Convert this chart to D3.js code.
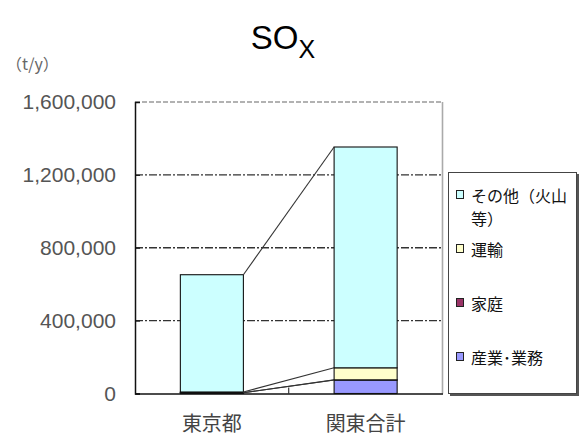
<!DOCTYPE html>
<html>
<head>
<meta charset="utf-8">
<script src="https://cdn.jsdelivr.net/npm/d3@7"></script>
<style>
  html, body { margin: 0; padding: 0; background: #fff; }
  svg { display: block; }
</style>
</head>
<body>
<svg id="chart" width="580" height="442"></svg>
<script>
// ---- data ----
const categories = ["東京都", "関東合計"];
const seriesNames = ["産業･業務", "家庭", "運輸", "その他（火山等）"];
const industry = [4000, 74000];
const household = [300, 1000];
const transport = [4000, 66000];
const other = [643700, 1212000];
const yTicks = [0, 400000, 800000, 1200000, 1600000];
const legendOrder = ["その他（火山等）", "運輸", "家庭", "産業･業務"];
const colors = ["#9999FF", "#993366", "#FFFFCC", "#CCFFFF"];

// ---- layout ----
const svg = d3.select("#chart");
const plotL = 135, plotR = 442.5, plotT = 102, plotB = 393.5;

const rows = categories.map((c, i) => ({
  cat: c,
  "産業･業務": industry[i],
  "家庭": household[i],
  "運輸": transport[i],
  "その他（火山等）": other[i]
}));
const stack = d3.stack().keys(seriesNames)(rows);

const x = d3.scaleBand().domain(categories).range([plotL, plotR])
  .paddingInner(0.59).paddingOuter(0.295);
const y = d3.scaleLinear().domain([0, 1600000]).range([plotB, plotT]);

// title
const title = svg.append("text")
  .attr("x", 283).attr("y", 49)
  .attr("text-anchor", "middle")
  .style("font-family", "'Liberation Sans', Arial, sans-serif")
  .style("font-size", "33px")
  .attr("fill", "#000");
title.append("tspan").text("SO");
title.append("tspan").attr("dy", 9).style("font-size", "25px").text("X");

// unit
svg.append("text")
  .attr("x", 6).attr("y", 70)
  .style("font-family", "'Noto Sans CJK JP', sans-serif")
  .style("font-size", "16px")
  .attr("fill", "#666")
  .text("（t/y）");

// gridlines
svg.append("g").selectAll("line")
  .data(yTicks.filter(t => t > 0 && t < 1600000))
  .join("line")
  .attr("x1", plotL).attr("x2", plotR)
  .attr("y1", d => y(d)).attr("y2", d => y(d))
  .attr("stroke", "#333").attr("stroke-width", 1.4)
  .attr("stroke-dasharray", "8,2,2,2");

// top border (dashed gray)
svg.append("line")
  .attr("x1", plotL).attr("x2", plotR)
  .attr("y1", y(1600000)).attr("y2", y(1600000))
  .attr("stroke", "#999").attr("stroke-width", 1.4)
  .attr("stroke-dasharray", "5,2");
// right border
svg.append("line")
  .attr("x1", plotR).attr("x2", plotR)
  .attr("y1", plotT).attr("y2", plotB)
  .attr("stroke", "#aaa").attr("stroke-width", 1.6);

// bars
svg.append("g").selectAll("g")
  .data(stack)
  .join("g")
  .attr("fill", (d, i) => colors[i])
  .selectAll("rect")
  .data(d => d)
  .join("rect")
  .attr("x", d => x(d.data.cat))
  .attr("width", x.bandwidth())
  .attr("y", d => y(d[1]))
  .attr("height", d => y(d[0]) - y(d[1]))
  .attr("stroke", "#111").attr("stroke-width", 1.1);

// series lines
const c0 = categories[0], c1 = categories[1];
svg.append("g").selectAll("line")
  .data(stack)
  .join("line")
  .attr("x1", x(c0) + x.bandwidth()).attr("x2", x(c1))
  .attr("y1", d => y(d[0][1])).attr("y2", d => y(d[1][1]))
  .attr("stroke", "#333").attr("stroke-width", 1.1);

// y axis
const yAxis = d3.axisLeft(y).tickValues(yTicks).tickSize(-5).tickPadding(19)
  .tickFormat(d3.format(","));
const ya = svg.append("g").attr("transform", `translate(${plotL},0)`).call(yAxis);
ya.select(".domain").attr("stroke", "#111").attr("stroke-width", 1.5);
ya.selectAll(".tick line").attr("stroke", "#111");
ya.selectAll("text")
  .style("font-family", "'Liberation Sans', Arial, sans-serif")
  .style("font-size", "21px")
  .attr("fill", "#555");

// x axis
const xAxis = d3.axisBottom(x).tickSize(0).tickPadding(23);
const xa = svg.append("g").attr("transform", `translate(0,${plotB})`).call(xAxis);
xa.select(".domain").attr("stroke", "#111").attr("stroke-width", 1.6);
xa.selectAll("text")
  .style("font-family", "'Noto Sans CJK JP', sans-serif")
  .style("font-size", "20px")
  .attr("fill", "#444");
// category separator tick
svg.append("line")
  .attr("x1", (x(c0) + x.bandwidth() + x(c1)) / 2)
  .attr("x2", (x(c0) + x.bandwidth() + x(c1)) / 2)
  .attr("y1", plotB).attr("y2", plotB - 6)
  .attr("stroke", "#111").attr("stroke-width", 1);

// legend
const lg = svg.append("g");
lg.append("rect").attr("x", 450).attr("y", 174).attr("width", 129).attr("height", 222)
  .attr("fill", "#555");
lg.append("rect").attr("x", 448.5).attr("y", 172.5).attr("width", 128).attr("height", 221)
  .attr("fill", "#fff").attr("stroke", "#444").attr("stroke-width", 1);

const legendY = { "その他（火山等）": 196, "運輸": 250, "家庭": 304, "産業･業務": 358 };
legendOrder.forEach(name => {
  const i = seriesNames.indexOf(name);
  const cy = legendY[name];
  lg.append("rect").attr("x", 456.5).attr("y", cy - 5.5).attr("width", 7).attr("height", 8)
    .attr("fill", colors[i]).attr("stroke", "#222").attr("stroke-width", 1);
  const t = lg.append("text")
    .attr("x", 471).attr("y", cy + 6)
    .style("font-family", "'Noto Sans CJK JP', sans-serif")
    .style("font-size", "16px")
    .attr("fill", "#111");
  if (name === "その他（火山等）") {
    t.append("tspan").attr("x", 471).text("その他（火山");
    t.append("tspan").attr("x", 471).attr("dy", 23).text("等）");
  } else {
    t.text(name);
  }
});
</script>
</body>
</html>
